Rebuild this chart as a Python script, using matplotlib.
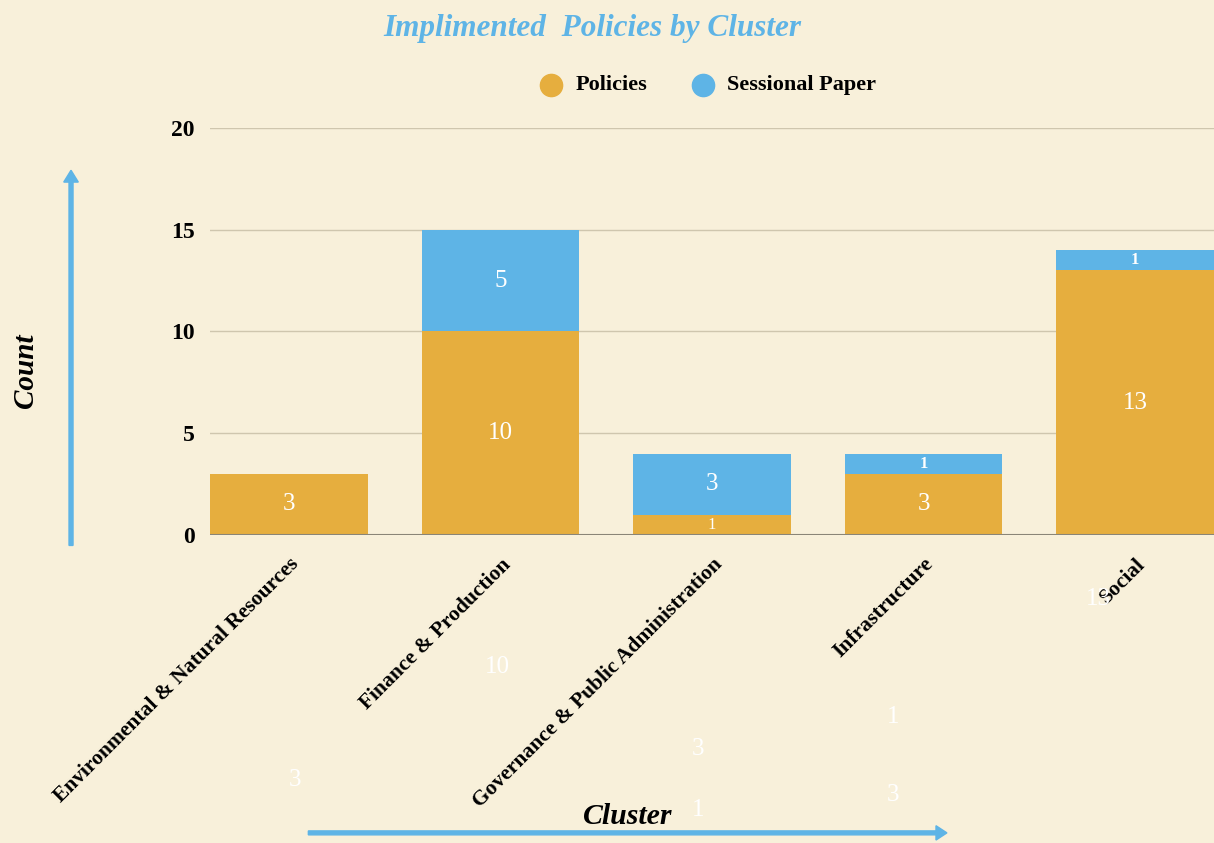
import numpy as np
import matplotlib.pyplot as plt
from matplotlib.lines import Line2D
from matplotlib.patches import FancyArrow
from matplotlib.transforms import blended_transform_factory

# data
clusters = ["Environmental & Natural Resources", "Finance & Production",
            "Governance & Public Administration", "Infrastructure", "Social"]
policies = [3, 10, 1, 3, 13]
sessional = [0, 5, 3, 1, 1]

bg = "#F8F0DA"
orange = "#E6AE3E"
blue = "#5EB4E6"

plt.rcParams['font.family'] = ['Liberation Serif', 'DejaVu Serif']

fig = plt.figure(figsize=(12.14, 8.43), dpi=100, facecolor=bg)
ax = fig.add_axes([0.173, 0.3654, 0.827, 0.4828], facecolor=bg)

x = np.arange(len(clusters))
width = 0.745
ax.bar(x, policies, width, color=orange, zorder=3)
ax.bar(x, sessional, width, bottom=policies, color=blue, zorder=3)

# value labels inside the segments
for i in range(len(clusters)):
    p, s = policies[i], sessional[i]
    if p > 0:
        size = 18 if p > 1 else 12
        ax.text(x[i], p / 2, str(p), ha='center', va='center', color='white',
                fontsize=size, zorder=4)
    if s > 0:
        size = 18 if s > 1 else 12
        ax.text(x[i], p + s / 2, str(s), ha='center', va='center', color='white',
                fontsize=size, fontweight='bold' if s == 1 else 'normal', zorder=4)

# stray white copies of the labels drawn below the axis
trans = blended_transform_factory(ax.transData, fig.transFigure)
ghosts = [(0, policies[0], 0.028, 0.075), (1, policies[1], -0.014, 0.209),
          (2, sessional[2], -0.066, 0.112), (2, policies[2], -0.066, 0.039),
          (3, sessional[3], -0.146, 0.150), (3, policies[3], -0.146, 0.057),
          (4, policies[4], -0.175, 0.290)]
for i, val, dx, yf in ghosts:
    ax.text(x[i] + dx, yf, str(val), transform=trans, ha='center',
            va='center', color='white', fontsize=18, clip_on=False)

ax.set_xlim(-width / 2, len(clusters) - 1 + width / 2)
ax.set_ylim(0, 20)
ax.set_yticks([0, 5, 10, 15, 20])
ax.grid(axis='y', color='#CFC6AE', linewidth=1, zorder=0)
ax.axhline(0, color='#8A8577', linewidth=1.5, zorder=5)
for sp in ax.spines.values():
    sp.set_visible(False)
ax.tick_params(axis='y', length=0, pad=11, labelsize=17)
for lab in ax.get_yticklabels():
    lab.set_fontweight('bold')

ax.set_xticks(x)
ax.set_xticklabels(clusters, rotation=45, ha='right', rotation_mode='anchor',
                   fontsize=15.5, fontweight='bold')
ax.tick_params(axis='x', length=0, pad=14)

# title and legend
fig.text(0.488, 0.966, "Implimented  Policies by Cluster", ha='center', va='center',
         color=blue, fontsize=22.5, fontweight='bold', style='italic')
leg_items = [("Policies", orange, 0.454), ("Sessional Paper", blue, 0.579)]
for name, col, xf in leg_items:
    fig.add_artist(Line2D([xf], [0.899], marker='o', markersize=16, color=col,
                          linestyle='none', transform=fig.transFigure))
    fig.text(xf + 0.020, 0.899, name, ha='left', va='center', fontsize=16,
             fontweight='bold', color='black')

# axis titles with arrows
fig.text(0.021, 0.56, "Count", rotation=90, ha='center', va='center', fontsize=21,
         fontweight='bold', style='italic')
fig.text(0.517, 0.032, "Cluster", ha='center', va='center', fontsize=21.5,
         fontweight='bold', style='italic')
fig.add_artist(FancyArrow(
    0.0585, 0.353, 0, 0.445, width=0.0033, head_width=0.012, head_length=0.014,
    length_includes_head=True, transform=fig.transFigure, color=blue))
fig.add_artist(FancyArrow(
    0.254, 0.012, 0.526, 0, width=0.0047, head_width=0.017, head_length=0.009,
    length_includes_head=True, transform=fig.transFigure, color=blue))

fig.savefig("out.png", dpi=100, facecolor=bg)
